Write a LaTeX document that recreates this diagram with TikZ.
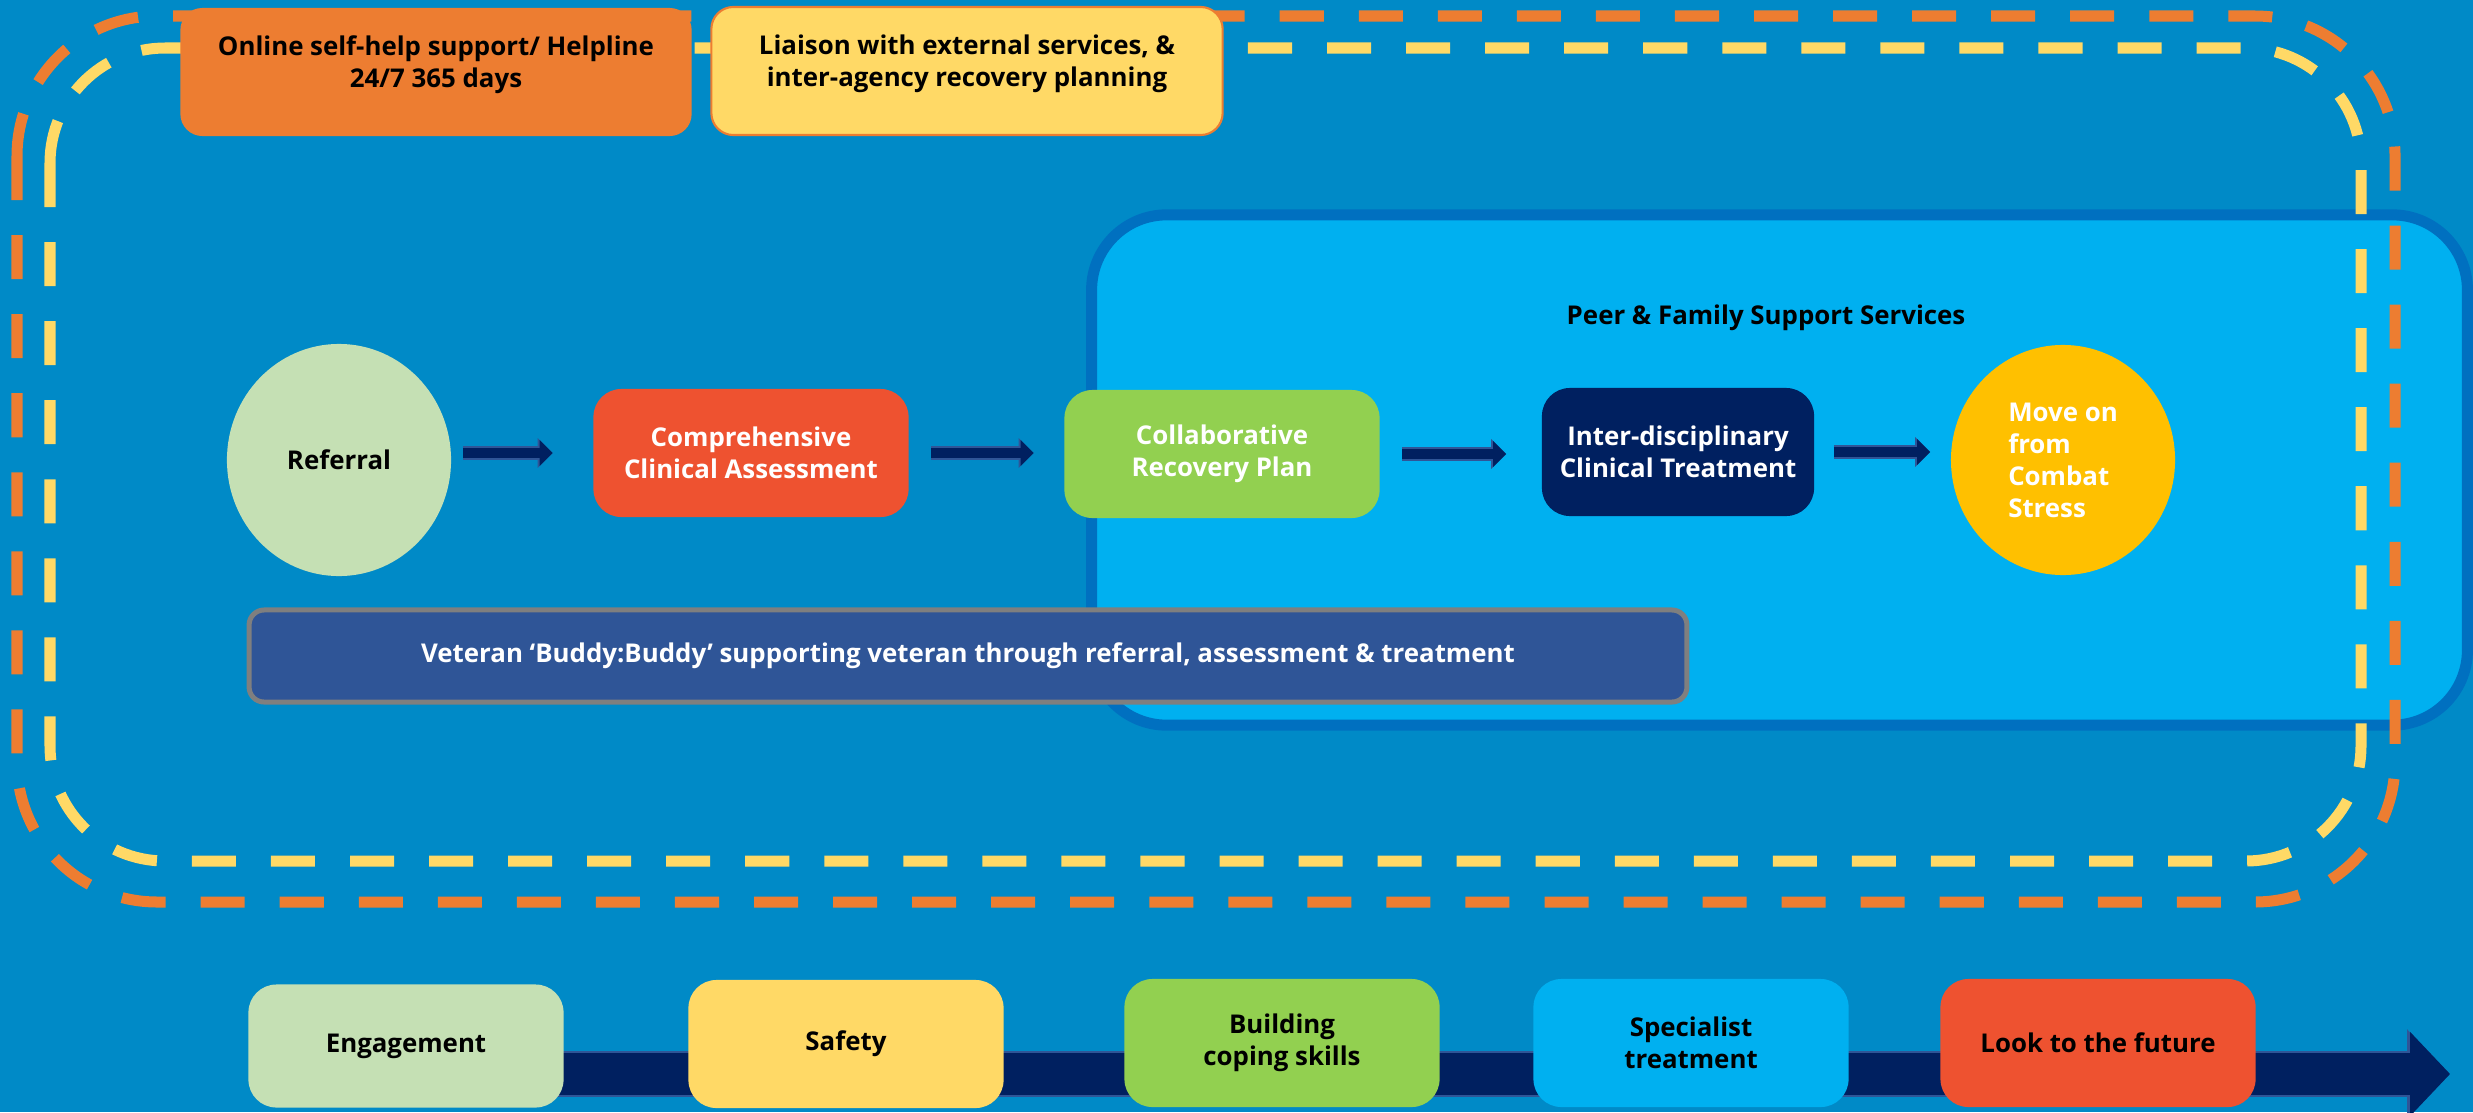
\documentclass[tikz,border=0pt]{standalone}
\usepackage{fontspec}
\setmainfont{Open Sans}
\usepackage{tikz}
\usetikzlibrary{shapes.geometric,arrows.meta}
\definecolor{seablue}{RGB}{0,138,199}
\definecolor{skyblue}{RGB}{0,176,240}
\definecolor{panelrim}{RGB}{0,112,192}
\definecolor{tangerine}{RGB}{237,125,49}
\definecolor{sand}{RGB}{255,217,102}
\definecolor{sage}{RGB}{197,224,180}
\definecolor{flame}{RGB}{238,82,48}
\definecolor{leaf}{RGB}{146,208,80}
\definecolor{navy}{RGB}{0,32,96}
\definecolor{gold}{RGB}{255,192,0}
\definecolor{buddyblue}{RGB}{47,85,151}
\definecolor{slate}{RGB}{127,127,127}
\newcommand{\fs}{\fontsize{7.35}{9.1}\selectfont\bfseries}

\begin{document}
\begin{tikzpicture}[x=0.01cm,y=-0.01cm,font=\fs,
    box/.style={rectangle,rounded corners=0.28cm,minimum width=3.15cm,
      minimum height=1.28cm,align=center,inner sep=1pt},
    topbox/.style={box,minimum width=5.11cm,rounded corners=0.22cm,text depth=0.2cm},
    blob/.style={ellipse,minimum width=2.24cm,minimum height=2.32cm,inner sep=0pt},
    dashring/.style={line width=0.11cm,dash pattern=on 0.44cm off 0.35cm},
    flow/.style={line width=0.1cm,draw=navy,shorten <=0.22cm,shorten >=0.3cm,
      -{Triangle[length=0.13cm,width=0.25cm]},
      preaction={draw=buddyblue,line width=0.14cm,
        -{Triangle[length=0.15cm,width=0.29cm]}}},
    bigflow/.style={line width=0.42cm,draw=navy,
      -{Triangle[length=0.4cm,width=0.82cm]},
      preaction={draw=buddyblue,line width=0.46cm,
        -{Triangle[length=0.43cm,width=0.87cm]}}}]

  \fill[seablue] (0,0) rectangle (2473,1112);
  \useasboundingbox (0,0) rectangle (2473,1112);

  % support services panel
  \node[rectangle,rounded corners=0.75cm,minimum width=13.75cm,minimum height=5.1cm,
    line width=0.11cm,draw=panelrim,fill=skyblue] (peer) at (1779.5,470) {};
  \node (peertitle) at (1766,318) {Peer \& Family Support Services};

  % dashed rings
  \draw[dashring,tangerine,rounded corners=1.4cm] (17,16) rectangle (2395,902);
  \draw[dashring,sand,rounded corners=1.15cm] (50,48) rectangle (2361,861);

  \node[topbox,fill=tangerine] (helpline) at (436,72)
    {Online self-help support/ Helpline\\24/7 365 days};
  \node[topbox,fill=sand,draw=tangerine,line width=0.6pt] (liaison) at (967,71)
    {Liaison with external services, \&\\inter-agency recovery planning};

  \node[rectangle,rounded corners=0.15cm,minimum width=14.37cm,minimum height=0.92cm,
    line width=0.05cm,draw=slate,fill=buddyblue,text=white] (buddy) at (968,656)
    {Veteran ‘Buddy:Buddy’ supporting veteran through referral, assessment \& treatment};

  % pathway
  \node[blob,fill=sage] (referral) at (339,460) {Referral};
  \node[box,fill=flame,text=white] (assess) at (751,453)
    {Comprehensive\\Clinical Assessment};
  \node[box,fill=leaf,text=white] (recovery) at (1222,454)
    {Collaborative\\Recovery Plan};
  \node[box,fill=navy,text=white,minimum width=2.72cm] (treatment) at (1678,452)
    {Inter-disciplinary\\Clinical Treatment};
  \node[blob,fill=gold,text=white,align=left,minimum height=2.3cm] (moveon) at (2063,460)
    {Move on\\from\\Combat\\Stress};

  \draw[flow,shorten <=0.11cm,shorten >=0.4cm] (referral.east |- assess.west) -- (assess.west);
  \draw[flow] (assess.east) -- (assess.east -| recovery.west);
  \draw[flow,shorten >=0.35cm] (recovery.east) -- (recovery.east -| treatment.west);
  \draw[flow,shorten <=0.19cm,shorten >=0.2cm] (treatment.east) -- (treatment.east -| moveon.west);

  % stages
  \coordinate (tail) at (406,1074);
  \coordinate (horizon) at (2450,1074);
  \draw[bigflow] (tail) -- (horizon);

  \node[box,fill=sage,minimum height=1.23cm] (engage) at (406,1046) {Engagement};
  \node[box,fill=sand] (safety) at (846,1044) {Safety};
  \node[box,fill=leaf] (coping) at (1282,1043) {Building\\coping skills};
  \node[box,fill=skyblue] (specialist) at (1691,1043) {Specialist\\treatment};
  \node[box,fill=flame] (future) at (2098,1043) {Look to the future};
\end{tikzpicture}
\end{document}
